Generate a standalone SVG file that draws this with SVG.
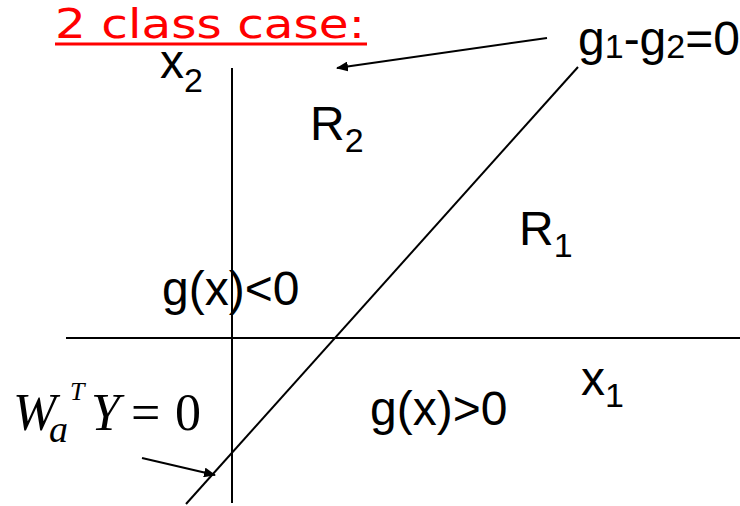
<svg xmlns="http://www.w3.org/2000/svg" width="740" height="506" viewBox="0 0 740 506">
<style>
.t{font-family:"Liberation Sans",Arial,sans-serif;font-size:48px;fill:#000}
.s{font-size:34px}
.m{font-family:"Liberation Serif","Times New Roman",serif;font-style:italic;fill:#000}
.r{font-family:"Liberation Serif","Times New Roman",serif;fill:#000}
.ln{stroke:#000;stroke-width:2;fill:none}
</style>
<defs>
<marker id="ah" markerWidth="12" markerHeight="10" refX="11" refY="5" orient="auto" markerUnits="userSpaceOnUse">
<path d="M0,0 L12,5 L0,10 z" fill="#000"/>
</marker>
</defs>
<rect width="740" height="506" fill="#fff"/>
<g id="title">
<text x="55" y="38" font-family="'Comic Sans MS','DejaVu Sans',sans-serif" font-size="40" fill="#ff0000" textLength="310" lengthAdjust="spacingAndGlyphs">2 class case:</text>
<line x1="55" y1="44" x2="367" y2="44" stroke="#ff0000" stroke-width="3"/>
</g>
<g id="axes">
<line class="ln" x1="232" y1="68" x2="232" y2="503"/>
<line class="ln" x1="66" y1="338" x2="740" y2="338"/>
</g>
<g id="boundary">
<line class="ln" x1="578" y1="67" x2="186" y2="504"/>
</g>
<g id="connectors">
<line class="ln" x1="547" y1="38" x2="337" y2="68" marker-end="url(#ah)"/>
<line class="ln" x1="142" y1="458" x2="215" y2="475" marker-end="url(#ah)"/>
</g>
<g id="label-g1g2"><text class="t" x="578" y="55">g<tspan class="s" dy="3">1</tspan><tspan dy="-3">-g</tspan><tspan class="s" dy="3">2</tspan><tspan dy="-3">=0</tspan></text></g>
<g id="label-x2"><text class="t" x="160" y="78">x<tspan class="s" dy="14">2</tspan></text></g>
<g id="label-R2"><text class="t" x="310" y="140">R<tspan class="s" dy="12">2</tspan></text></g>
<g id="label-R1"><text class="t" x="519" y="245">R<tspan class="s" dy="12">1</tspan></text></g>
<g id="label-gneg"><text class="t" x="162" y="305">g(x)&lt;0</text></g>
<g id="label-x1"><text class="t" x="581" y="395">x<tspan class="s" dy="12">1</tspan></text></g>
<g id="label-gpos"><text class="t" x="370" y="425">g(x)&gt;0</text></g>
<g id="label-wa">
<text class="m" x="13" y="430" font-size="52">W</text>
<text class="m" x="49" y="442" font-size="38">a</text>
<text class="m" x="70" y="400" font-size="26">T</text>
<text class="m" x="91" y="430" font-size="52">Y</text>
<text class="r" x="131" y="430" font-size="52">=</text>
<text class="r" x="175" y="430" font-size="52">0</text>
</g>
</svg>
